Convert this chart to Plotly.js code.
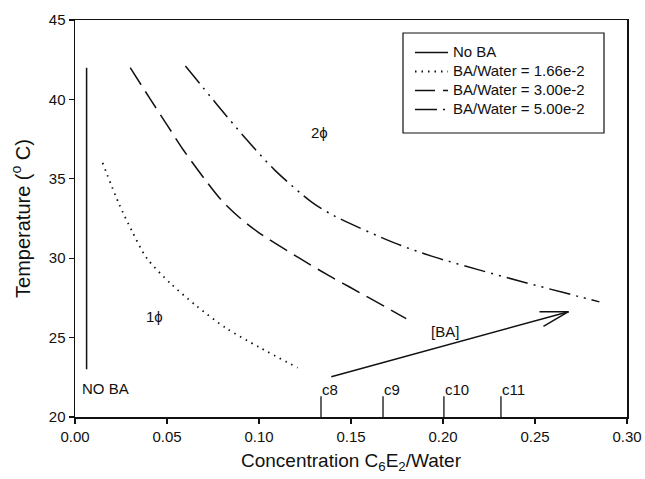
<!DOCTYPE html>
<html>
<head>
<meta charset="utf-8">
<script src="https://cdn.plot.ly/plotly-3.0.1.min.js"></script>
<style>html,body{margin:0;padding:0;background:#fff;}#chart{width:645px;height:479px;}</style>
</head>
<body>
<div id="chart"></div>
<script>
// ---- data ----
const seriesNames = ["No BA", "BA/Water = 1.66e-2", "BA/Water = 3.00e-2", "BA/Water = 5.00e-2"];

const noBA_x = [0.0063, 0.0063];
const noBA_T = [23.0, 42.0];

const ba166_x = [0.015, 0.024, 0.031, 0.039, 0.052, 0.066, 0.082, 0.100, 0.121];
const ba166_T = [36.0, 33.4, 31.7, 30.0, 28.4, 27.0, 25.6, 24.4, 23.1];

const ba300_x = [0.030, 0.041, 0.050, 0.059, 0.071, 0.080, 0.090, 0.100, 0.122, 0.138, 0.149, 0.180];
const ba300_T = [42.0, 40.0, 38.4, 36.8, 34.9, 33.6, 32.5, 31.6, 30.0, 28.9, 28.2, 26.2];

const ba500_x = [0.060, 0.077, 0.093, 0.109, 0.129, 0.142, 0.175, 0.196, 0.220, 0.242, 0.265, 0.285];
const ba500_T = [42.1, 39.7, 37.5, 35.5, 33.5, 32.6, 30.9, 30.05, 29.25, 28.55, 27.85, 27.25];

// c8..c11 markers on the concentration axis
const cLabels = ["c8", "c9", "c10", "c11"];
const cX = [0.1337, 0.1674, 0.2005, 0.2315];
const cTop = 21.3;

// [BA] arrow (start -> tip)
const arrowX = [0.1393, 0.2682];
const arrowT = [22.54, 26.63];

// text labels
const labelText = ["2ϕ", "1ϕ", "NO BA", "[BA]"];
const labelX = [0.133, 0.0434, 0.0168, 0.201];
const labelT = [37.9, 26.3, 21.8, 25.4];

const xTickVals = [0.00, 0.05, 0.10, 0.15, 0.20, 0.25, 0.30];
const xTickText = ["0.00", "0.05", "0.10", "0.15", "0.20", "0.25", "0.30"];
const yTickVals = [20, 25, 30, 35, 40, 45];

// ---- layout geometry ----
const W = 645, H = 479;
const M = {l: 75, r: 18, t: 20, b: 62};
const xRange = [0, 0.30], yRange = [20, 45];
const plotW = W - M.l - M.r, plotH = H - M.t - M.b;
const pxX = plotW / (xRange[1] - xRange[0]);
const pxY = plotH / (yRange[1] - yRange[0]);

const FONT = "Liberation Sans, Arial, Helvetica, sans-serif";
const ink = "#111";

const lineW = 1.5;
const big = s => '<span style="font-size:15px">' + s + '</span>';
const traces = [
  {x: noBA_x, y: noBA_T, name: big(seriesNames[0]), mode: "lines", line: {color: ink, width: lineW, dash: "solid"}},
  {x: ba166_x, y: ba166_T, name: big(seriesNames[1]), mode: "lines", line: {color: ink, width: 1.8, dash: "1.5px,5px", shape: "spline", smoothing: 0.8}},
  {x: ba300_x, y: ba300_T, name: big(seriesNames[2]), mode: "lines", line: {color: ink, width: lineW, dash: "20px,8px", shape: "spline", smoothing: 0.8}},
  {x: ba500_x, y: ba500_T, name: big(seriesNames[3]), mode: "lines", line: {color: ink, width: lineW, dash: "22px,6px,2px,6px,2px,6px", shape: "spline", smoothing: 0.8}}
];

// c-marker ticks
const cxs = [], cys = [];
cX.forEach(v => { cxs.push(v, v, null); cys.push(yRange[0], cTop, null); });
traces.push({x: cxs, y: cys, mode: "lines", showlegend: false, hoverinfo: "skip", line: {color: ink, width: 1.3}});

// arrow shaft
traces.push({x: arrowX, y: arrowT, mode: "lines", showlegend: false, hoverinfo: "skip", line: {color: ink, width: 1.5}});
// arrow head arms computed in pixel space from the shaft direction
const dxp = (arrowX[1] - arrowX[0]) * pxX;
const dyp = (arrowT[1] - arrowT[0]) * pxY;
const ang = Math.atan2(dyp, dxp);
const armLen = 29, armAng = 15 * Math.PI / 180;
[armAng, -armAng].forEach(a => {
  const bx = -Math.cos(ang + a) * armLen;
  const by = -Math.sin(ang + a) * armLen;
  traces.push({
    x: [arrowX[1], arrowX[1] + bx / pxX],
    y: [arrowT[1], arrowT[1] + by / pxY],
    mode: "lines", showlegend: false, hoverinfo: "skip",
    line: {color: ink, width: 1.5}
  });
});

const annotations = [];
labelText.forEach((t, i) => {
  annotations.push({x: labelX[i], y: labelT[i], xref: "x", yref: "y", text: t, showarrow: false,
    font: {family: FONT, size: 15, color: ink}, xanchor: "center", yanchor: "middle"});
});
cLabels.forEach((t, i) => {
  annotations.push({x: cX[i], y: cTop, xref: "x", yref: "y", text: t, showarrow: false,
    font: {family: FONT, size: 15, color: ink}, xanchor: "left", yanchor: "bottom", xshift: -1, yshift: -4});
});

const layout = {
  width: W, height: H,
  margin: M,
  paper_bgcolor: "#fff", plot_bgcolor: "#fff",
  font: {family: FONT, size: 15, color: ink},
  showlegend: true,
  legend: {
    x: (410 - M.l) / plotW, y: 1 - (38 - M.t) / plotH, xanchor: "left", yanchor: "top",
    bgcolor: "rgba(0,0,0,0)", borderwidth: 0,
    font: {family: FONT, size: 12, color: ink}, tracegroupgap: 0, itemwidth: 33
  },
  shapes: [{
    type: "rect", xref: "paper", yref: "paper",
    x0: (403 - M.l) / plotW, x1: (604 - M.l) / plotW,
    y0: 1 - (133 - M.t) / plotH, y1: 1 - (33 - M.t) / plotH,
    line: {color: ink, width: 1.2}, fillcolor: "rgba(0,0,0,0)"
  }],
  xaxis: {
    range: xRange, tickvals: xTickVals, ticktext: xTickText,
    showgrid: false, zeroline: false,
    showline: true, linecolor: ink, linewidth: 1.5, mirror: true,
    ticks: "outside", ticklen: 5, tickwidth: 1.3, tickcolor: ink,
    tickfont: {family: FONT, size: 15, color: ink},
    title: {text: "Concentration C<sub>6</sub>E<sub>2</sub>/Water", font: {family: FONT, size: 19, color: ink}, standoff: 10}
  },
  yaxis: {
    range: yRange, tickvals: yTickVals,
    showgrid: false, zeroline: false,
    showline: true, linecolor: ink, linewidth: 1.5, mirror: true,
    ticks: "outside", ticklen: 5, tickwidth: 1.3, tickcolor: ink,
    tickfont: {family: FONT, size: 15, color: ink},
    title: {text: "Temperature (<sup>o</sup> C)", font: {family: FONT, size: 20, color: ink}, standoff: 13}
  },
  annotations: annotations
};

Plotly.newPlot("chart", traces, layout, {displayModeBar: false, staticPlot: true});
</script>
</body>
</html>
